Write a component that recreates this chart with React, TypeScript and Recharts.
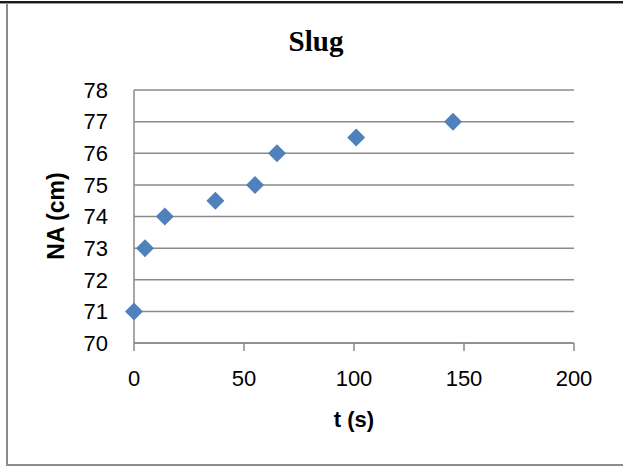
import { ScatterChart, Scatter, XAxis, YAxis, CartesianGrid } from 'recharts';

// time in seconds and measured NA in cm
const times = [0, 5, 14, 37, 55, 65, 101, 145];
const naValues = [71, 73, 74, 74.5, 75, 76, 76.5, 77];

const xTicks = [0, 50, 100, 150, 200];
const yTicks = [70, 71, 72, 73, 74, 75, 76, 77, 78];

const points = times.map((t, i) => ({ t, na: naValues[i] }));

const GRID = '#8a8a8a';
const MARKER = '#4f81bd';
const SANS = '"Liberation Sans", Arial, sans-serif';

const Diamond = (props: any) => {
    const { cx, cy } = props;
    const r = 9;
    return (
        <polygon
            points={`${cx},${cy - r} ${cx + r},${cy} ${cx},${cy + r} ${cx - r},${cy}`}
            fill={MARKER}
        />
    );
};

export default function App() {
    return (
        <div style={{ position: 'absolute', left: 0, top: 0, width: 623, height: 467, background: '#fff' }}>
            {/* frame edges */}
            <div style={{ position: 'absolute', left: 0, top: 1, width: 623, height: 2, background: '#1a1a1a' }} />
            <div style={{ position: 'absolute', left: 0, top: 3, width: 623, height: 1, background: '#9a9a9a' }} />
            <div style={{ position: 'absolute', left: 6, top: 4, width: 2, height: 462, background: '#8c8c8c' }} />
            <div style={{ position: 'absolute', left: 6, top: 464, width: 617, height: 2, background: '#8c8c8c' }} />

            <div style={{ position: 'absolute', left: 0, top: 0 }}>
                <ScatterChart width={623} height={467} margin={{ top: 90, right: 49, bottom: 64, left: 0 }}>
                    <CartesianGrid horizontal vertical={false} stroke={GRID} strokeWidth={1.5} />
                    <XAxis
                        type="number"
                        dataKey="t"
                        domain={[0, 200]}
                        ticks={xTicks}
                        height={60}
                        axisLine={{ stroke: GRID, strokeWidth: 1.5 }}
                        tickLine={{ stroke: GRID, strokeWidth: 1.5 }}
                        tickSize={8}
                        tickMargin={19}
                        tick={{ fill: '#000', fontSize: 22, fontFamily: SANS }}
                    />
                    <YAxis
                        type="number"
                        dataKey="na"
                        domain={[70, 78]}
                        ticks={yTicks}
                        width={134}
                        axisLine={{ stroke: GRID, strokeWidth: 1.5 }}
                        tickLine={false}
                        tickSize={0}
                        tickMargin={26}
                        tick={{ fill: '#000', fontSize: 22, fontFamily: SANS }}
                    />
                    <Scatter data={points} shape={<Diamond />} isAnimationActive={false} />
                </ScatterChart>
            </div>

            <svg width={623} height={467} style={{ position: 'absolute', left: 0, top: 0, pointerEvents: 'none' }}>
                <text
                    x={316}
                    y={51}
                    textAnchor="middle"
                    fontFamily='"Liberation Serif", "Times New Roman", serif'
                    fontWeight="bold"
                    fontSize={29}
                >
                    Slug
                </text>
                <text x={354} y={427} textAnchor="middle" fontFamily={SANS} fontWeight="bold" fontSize={22}>
                    t (s)
                </text>
                <text
                    x={64}
                    y={216}
                    textAnchor="middle"
                    transform="rotate(-90, 64, 216)"
                    fontFamily={SANS}
                    fontWeight="bold"
                    fontSize={23}
                >
                    NA (cm)
                </text>
            </svg>
        </div>
    );
}
